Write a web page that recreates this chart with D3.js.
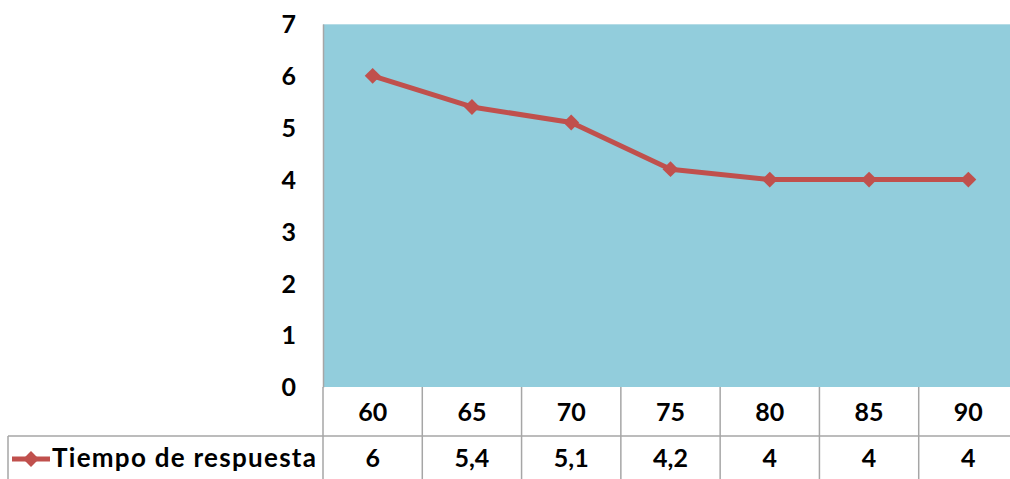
<!DOCTYPE html>
<html>
<head>
<meta charset="utf-8">
<script src="https://cdn.jsdelivr.net/npm/d3@7"></script>
<style>
  html, body { margin: 0; padding: 0; background: #fff; overflow: hidden; }
  svg { display: block; }
  text { font-family: Lato, "Open Sans", sans-serif; font-weight: bold; fill: #000; }
</style>
</head>
<body>
<svg id="chart" width="1010" height="479"></svg>
<script>
// Response time by category
const categories = ["60", "65", "70", "75", "80", "85", "90"];
const values = [6, 5.4, 5.1, 4.2, 4, 4, 4];
const valueLabels = ["6", "5,4", "5,1", "4,2", "4", "4", "4"];
const yTicks = [0, 1, 2, 3, 4, 5, 6, 7];
const seriesName = "Tiempo de respuesta";

const svg = d3.select("#chart");
const plot = { left: 323, right: 1018, top: 24, bottom: 387 };
const row1Bottom = 436, row2Bottom = 490, legendLeft = 8;
const lineColor = "#C0504D";
const gridColor = "#a6a6a6";

const x = d3.scaleBand().domain(categories).range([plot.left, plot.right]);
const y = d3.scaleLinear().domain([0, 7]).range([plot.bottom, plot.top]);

// plot background
svg.append("rect")
  .attr("x", plot.left).attr("y", plot.top)
  .attr("width", plot.right - plot.left).attr("height", plot.bottom - plot.top)
  .attr("fill", "#92CDDC");
svg.append("line")
  .attr("x1", plot.left).attr("x2", plot.right)
  .attr("y1", plot.top + 0.5).attr("y2", plot.top + 0.5)
  .attr("stroke", "#b5dce6").attr("stroke-width", 1);

// y axis
const yAxis = d3.axisLeft(y).tickValues(yTicks).tickSize(0).tickPadding(27).tickFormat(d3.format("d"));
const gy = svg.append("g").attr("transform", `translate(${plot.left},0)`).call(yAxis);
gy.select(".domain").attr("stroke", gridColor).attr("stroke-width", 1.5);
gy.selectAll("text").style("font-size", "25px").attr("dy", "0.35em")
  .style("font-family", "Lato, sans-serif").style("font-weight", "bold");

// data table grid
const g = svg.append("g").attr("stroke", gridColor).attr("stroke-width", 1.5);
categories.forEach(c => {
  g.append("line").attr("x1", x(c)).attr("x2", x(c))
    .attr("y1", plot.bottom).attr("y2", row2Bottom);
});
g.append("line").attr("x1", plot.right).attr("x2", plot.right)
  .attr("y1", plot.bottom).attr("y2", row2Bottom);
g.append("line").attr("x1", legendLeft).attr("x2", plot.right)
  .attr("y1", row1Bottom).attr("y2", row1Bottom);
g.append("line").attr("x1", legendLeft).attr("x2", legendLeft)
  .attr("y1", row1Bottom).attr("y2", row2Bottom);

// category row
svg.append("g").selectAll("text").data(categories).join("text")
  .attr("x", d => x(d) + x.bandwidth() / 2)
  .attr("y", (plot.bottom + row1Bottom) / 2 + 1)
  .attr("text-anchor", "middle").attr("dy", "0.35em")
  .style("font-size", "25px")
  .text(d => d);

// value row
svg.append("g").selectAll("text").data(categories).join("text")
  .attr("x", d => x(d) + x.bandwidth() / 2)
  .attr("y", 458)
  .attr("text-anchor", "middle").attr("dy", "0.35em")
  .style("font-size", "25px")
  .text((d, i) => valueLabels[i]);

// legend key
const diamond = d3.symbol().type(d3.symbolDiamond2).size(160);
svg.append("line").attr("x1", 12).attr("x2", 50).attr("y1", 459).attr("y2", 459)
  .attr("stroke", lineColor).attr("stroke-width", 5);
svg.append("path").attr("d", diamond).attr("transform", "translate(31,459)").attr("fill", lineColor);
svg.append("text").attr("x", 52).attr("y", 458).attr("dy", "0.35em")
  .attr("textLength", 264).attr("lengthAdjust", "spacing")
  .style("font-size", "26px").text(seriesName);

// series line
const pts = categories.map((c, i) => [x(c) + x.bandwidth() / 2, y(values[i])]);
svg.append("path").datum(pts)
  .attr("d", d3.line())
  .attr("fill", "none").attr("stroke", lineColor).attr("stroke-width", 5)
  .attr("stroke-linejoin", "round");
svg.append("g").selectAll("path").data(pts).join("path")
  .attr("d", diamond)
  .attr("transform", d => `translate(${d[0]},${d[1]})`)
  .attr("fill", lineColor);
</script>
</body>
</html>
